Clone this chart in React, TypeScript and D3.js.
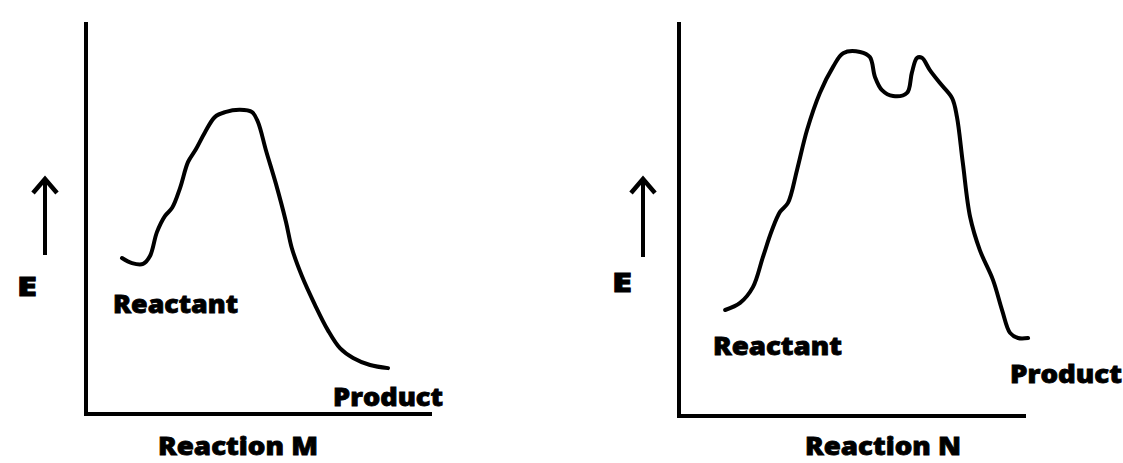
import React from "react";
import * as d3 from "d3";

// Reaction coordinate (0-100) and energy (0-100)
const reactionM_x = [10.4, 13.3, 16.5, 18.5, 20.5, 22.8, 24.9, 27.2, 29.5, 31.8, 34.4, 37.3, 40.2, 44.5, 48.0, 49.7, 52.0, 54.9, 57.8, 59.5, 62.4, 66.2, 69.9, 73.4, 77.2, 82.1, 87.3];
const reactionM_e = [39.8, 38.5, 38.3, 40.3, 46.4, 50.5, 52.6, 57.7, 64.3, 67.6, 71.9, 75.8, 77.0, 77.6, 77.0, 74.5, 67.3, 58.7, 49.0, 42.3, 35.2, 27.8, 21.4, 16.8, 14.3, 12.5, 11.7];

const reactionN_x = [13.3, 17.6, 21.3, 24.2, 26.8, 29.1, 31.4, 34.0, 36.9, 40.6, 44.4, 47.3, 52.2, 55.0, 56.5, 58.5, 61.7, 65.7, 67.1, 68.6, 70.0, 72.3, 75.2, 78.7, 80.1, 81.8, 83.9, 86.7, 90.5, 93.1, 95.4, 97.7, 100.6];
const reactionN_e = [26.9, 28.7, 32.7, 40.4, 47.2, 51.8, 54.1, 62.4, 72.6, 82.0, 88.6, 92.1, 92.4, 91.1, 86.0, 82.7, 81.2, 82.0, 87.1, 90.9, 90.9, 87.8, 84.5, 80.7, 75.9, 64.2, 50.5, 42.1, 34.5, 26.9, 21.1, 19.8, 19.8];

const axisLabel = "E";
const reactantLabel = "Reactant";
const productLabel = "Product";
const titles = ["Reaction M", "Reaction N"];

type Panel = {
  title: string;
  xs: number[];
  es: number[];
  x0: number; x1: number; y0: number; y1: number;
  arrowX: number; arrowTop: number; arrowBottom: number;
  eX: number; eY: number;
  reactant: [number, number, number];
  product: [number, number, number];
  titlePos: [number, number, number];
};

const panels: Panel[] = [
  {
    title: titles[0], xs: reactionM_x, es: reactionM_e,
    x0: 86, x1: 432, y0: 414, y1: 22,
    arrowX: 45, arrowTop: 177, arrowBottom: 255,
    eX: 17, eY: 296,
    reactant: [113, 313, 125],
    product: [333, 406, 110],
    titlePos: [158, 455, 160],
  },
  {
    title: titles[1], xs: reactionN_x, es: reactionN_e,
    x0: 679, x1: 1026, y0: 416, y1: 22,
    arrowX: 643, arrowTop: 177, arrowBottom: 257,
    eX: 612, eY: 292,
    reactant: [713, 355, 129],
    product: [1010, 383, 112],
    titlePos: [805, 455, 156],
  },
];

const font = "'Open Sans', 'Liberation Sans', sans-serif";

function EnergyPanel({ p }: { p: Panel }) {
  const x = d3.scaleLinear().domain([0, 100]).range([p.x0, p.x1]);
  const y = d3.scaleLinear().domain([0, 100]).range([p.y0, p.y1]);
  const pts: [number, number][] = p.xs.map((v, i) => [v, p.es[i]]);
  const line = d3
    .line<[number, number]>()
    .x((d) => x(d[0]))
    .y((d) => y(d[1]))
    .curve(d3.curveCatmullRom.alpha(0.5));
  const textStyle = { fontFamily: font, fontWeight: 800, fill: "#000", stroke: "#000", strokeWidth: 0.8 } as const;
  return (
    <g>
      {/* axes */}
      <line x1={p.x0} y1={p.y0 + 2} x2={p.x0} y2={p.y1} stroke="#000" strokeWidth={4} />
      <line x1={p.x0 - 2} y1={p.y0} x2={p.x1} y2={p.y0} stroke="#000" strokeWidth={4} />
      {/* curve */}
      <path d={line(pts) ?? ""} fill="none" stroke="#000" strokeWidth={4} strokeLinecap="round" strokeLinejoin="round" />
      {/* energy arrow */}
      <line x1={p.arrowX} y1={p.arrowBottom} x2={p.arrowX} y2={p.arrowTop + 2} stroke="#000" strokeWidth={4} />
      <polyline
        points={`${p.arrowX - 12},${p.arrowTop + 16} ${p.arrowX},${p.arrowTop + 2} ${p.arrowX + 12},${p.arrowTop + 16}`}
        fill="none" stroke="#000" strokeWidth={4.5} strokeLinejoin="miter"
      />
      <text x={p.eX} y={p.eY} fontSize={27} textLength={20} lengthAdjust="spacingAndGlyphs" style={textStyle}>{axisLabel}</text>
      <text x={p.reactant[0]} y={p.reactant[1]} fontSize={25} textLength={p.reactant[2]} lengthAdjust="spacingAndGlyphs" style={textStyle}>{reactantLabel}</text>
      <text x={p.product[0]} y={p.product[1]} fontSize={25} textLength={p.product[2]} lengthAdjust="spacingAndGlyphs" style={textStyle}>{productLabel}</text>
      <text x={p.titlePos[0]} y={p.titlePos[1]} fontSize={25} textLength={p.titlePos[2]} lengthAdjust="spacingAndGlyphs" style={textStyle}>{p.title}</text>
    </g>
  );
}

export default function App() {
  return (
    <svg width={1123} height={463} style={{ position: "absolute", left: 0, top: 0, background: "#fff" }}>
      <rect x={0} y={0} width={1123} height={463} fill="#fff" />
      {panels.map((p) => (
        <EnergyPanel key={p.title} p={p} />
      ))}
    </svg>
  );
}
